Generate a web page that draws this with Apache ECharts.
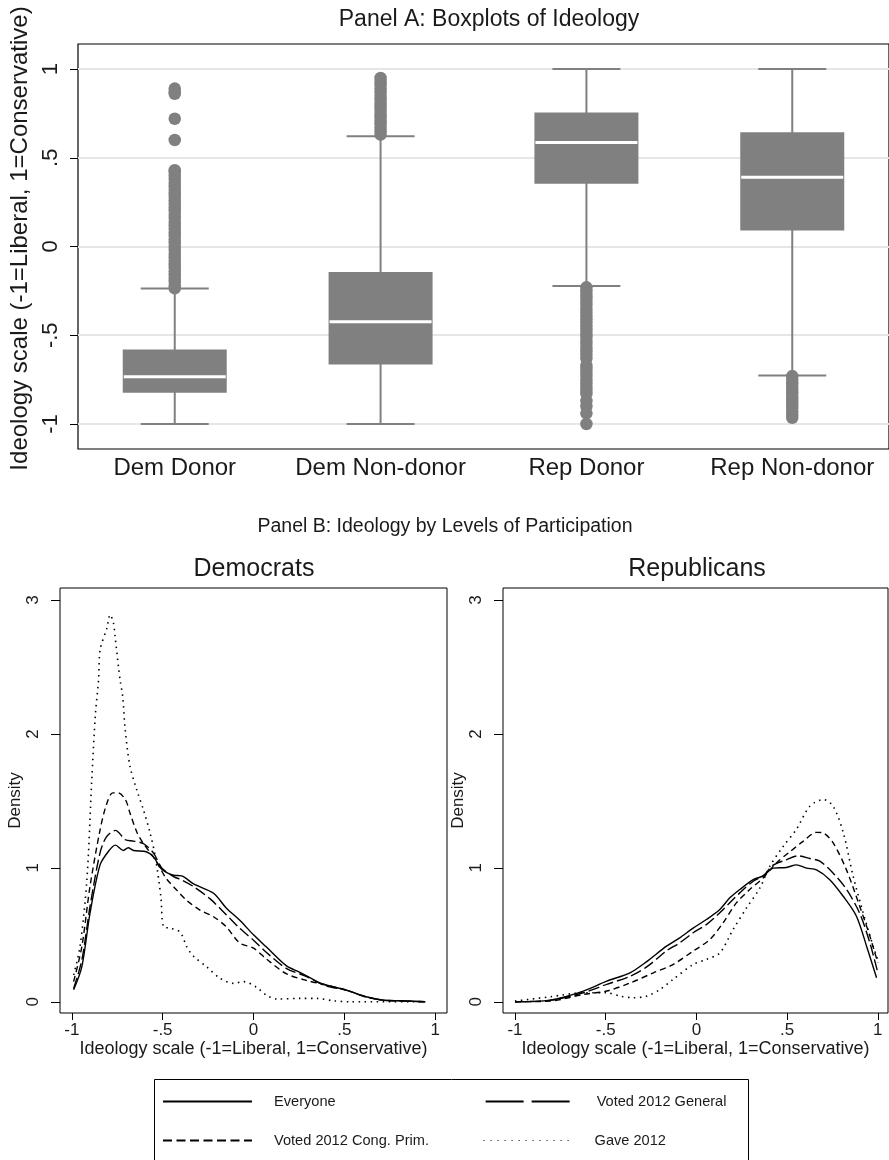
<!DOCTYPE html>
<html>
<head>
<meta charset="utf-8">
<script src="https://cdn.jsdelivr.net/npm/echarts@6/dist/echarts.min.js"></script>
<style>
html,body{margin:0;padding:0;background:#fff;}
#chart{width:889px;height:1160px;}
</style>
</head>
<body>
<div id="chart"></div>
<script>
// ---------- Panel A data ----------
var categories = ['Dem Donor', 'Dem Non-donor', 'Rep Donor', 'Rep Non-donor'];
var boxLow    = [-1.0,  -1.0,   -0.222, -0.727];
var boxQ1     = [-0.824,-0.665,  0.353,  0.090];
var boxMedian = [-0.734,-0.424,  0.586,  0.390];
var boxQ3     = [-0.580,-0.143,  0.755,  0.644];
var boxHigh   = [-0.237, 0.621,  1.0,    1.0];
var outDemDonor = [0.89,0.87,0.86,0.72,0.60,0.43,0.42,0.40,0.38,0.36,0.34,0.32,0.30,0.28,0.26,0.24,0.22,0.20,0.18,0.16,0.14,0.12,0.10,0.08,0.06,0.04,0.02,0.00,-0.02,-0.04,-0.06,-0.08,-0.10,-0.12,-0.14,-0.16,-0.18,-0.20,-0.22,-0.235];
var outDemNonDonor = [0.95,0.93,0.91,0.89,0.87,0.85,0.83,0.81,0.79,0.77,0.75,0.73,0.71,0.69,0.67,0.65,0.63];
var outRepDonor = [-0.23,-0.25,-0.27,-0.29,-0.31,-0.33,-0.35,-0.37,-0.39,-0.41,-0.43,-0.45,-0.47,-0.49,-0.51,-0.53,-0.55,-0.57,-0.59,-0.61,-0.63,-0.67,-0.69,-0.71,-0.73,-0.75,-0.77,-0.79,-0.81,-0.83,-0.87,-0.90,-0.94,-1.0];
var outRepNonDonor = [-0.73,-0.75,-0.77,-0.79,-0.81,-0.83,-0.85,-0.87,-0.89,-0.91,-0.93,-0.95,-0.965];
var yTicksA = [-1, -0.5, 0, 0.5, 1];

// ---------- Panel B data ----------
var seriesNames = ['Everyone', 'Voted 2012 General', 'Voted 2012 Cong. Prim.', 'Gave 2012'];
var xTicksB = [-1, -0.5, 0, 0.5, 1];
var yTicksB = [0, 1, 2, 3];
var demEveryone = [[-0.99,0.09],[-0.945,0.26],[-0.90,0.66],[-0.845,1.02],[-0.80,1.12],[-0.76,1.17],[-0.716,1.13],[-0.69,1.15],[-0.66,1.13],[-0.59,1.12],[-0.55,1.08],[-0.505,0.99],[-0.44,0.945],[-0.395,0.94],[-0.33,0.88],[-0.22,0.81],[-0.15,0.70],[-0.077,0.61],[0.0,0.50],[0.07,0.41],[0.18,0.27],[0.255,0.22],[0.35,0.15],[0.40,0.125],[0.51,0.087],[0.62,0.037],[0.715,0.012],[0.81,0.007],[0.945,0.0]];
var demGeneral = [[-0.99,0.10],[-0.945,0.31],[-0.90,0.71],[-0.845,1.11],[-0.81,1.23],[-0.76,1.28],[-0.705,1.21],[-0.66,1.20],[-0.605,1.18],[-0.55,1.11],[-0.505,1.0],[-0.44,0.935],[-0.395,0.91],[-0.33,0.86],[-0.24,0.77],[-0.15,0.65],[-0.077,0.55],[0.0,0.46],[0.07,0.37],[0.18,0.25],[0.29,0.19],[0.40,0.117],[0.51,0.087],[0.62,0.035],[0.715,0.012],[0.81,0.007],[0.945,0.0]];
var demPrimary = [[-0.99,0.15],[-0.945,0.41],[-0.90,0.86],[-0.845,1.28],[-0.81,1.47],[-0.775,1.56],[-0.745,1.56],[-0.705,1.51],[-0.68,1.41],[-0.64,1.26],[-0.605,1.18],[-0.55,1.08],[-0.515,1.0],[-0.48,0.92],[-0.42,0.83],[-0.37,0.76],[-0.295,0.685],[-0.22,0.635],[-0.15,0.56],[-0.077,0.44],[0.0,0.40],[0.07,0.32],[0.18,0.21],[0.29,0.16],[0.40,0.125],[0.51,0.087],[0.62,0.037],[0.715,0.012],[0.81,0.007],[0.945,0.0]];
var demGave = [[-0.99,0.2],[-0.955,0.41],[-0.917,0.91],[-0.89,1.66],[-0.87,2.15],[-0.853,2.40],[-0.844,2.63],[-0.807,2.79],[-0.789,2.89],[-0.771,2.83],[-0.762,2.73],[-0.743,2.50],[-0.734,2.40],[-0.72,2.28],[-0.706,2.03],[-0.68,1.76],[-0.642,1.58],[-0.605,1.43],[-0.569,1.26],[-0.54,1.08],[-0.51,0.785],[-0.495,0.56],[-0.46,0.55],[-0.404,0.52],[-0.367,0.41],[-0.33,0.34],[-0.257,0.26],[-0.183,0.174],[-0.11,0.137],[-0.055,0.15],[0.015,0.11],[0.07,0.05],[0.128,0.02],[0.257,0.025],[0.35,0.025],[0.44,0.007],[0.53,0.0],[0.936,0.0]];
var repEveryone = [[-1.0,0.0],[-0.807,0.012],[-0.623,0.08],[-0.494,0.154],[-0.366,0.216],[-0.274,0.30],[-0.165,0.415],[-0.092,0.477],[-0.018,0.55],[0.055,0.614],[0.129,0.689],[0.184,0.776],[0.239,0.838],[0.313,0.912],[0.368,0.94],[0.423,0.998],[0.496,1.003],[0.551,1.022],[0.607,0.998],[0.662,0.985],[0.735,0.912],[0.809,0.788],[0.882,0.639],[0.938,0.415],[0.993,0.179]];
var repGeneral = [[-1.0,0.0],[-0.807,0.01],[-0.623,0.067],[-0.494,0.13],[-0.366,0.19],[-0.274,0.26],[-0.165,0.38],[-0.092,0.44],[-0.018,0.515],[0.055,0.576],[0.129,0.664],[0.184,0.74],[0.239,0.813],[0.313,0.90],[0.368,0.94],[0.423,1.02],[0.496,1.06],[0.56,1.09],[0.625,1.07],[0.68,1.05],[0.754,0.96],[0.827,0.84],[0.90,0.66],[0.956,0.44],[1.0,0.216]];
var repPrimary = [[-1.0,0.0],[-0.807,0.005],[-0.623,0.055],[-0.494,0.08],[-0.366,0.14],[-0.237,0.216],[-0.129,0.278],[-0.018,0.378],[0.074,0.465],[0.147,0.589],[0.22,0.738],[0.294,0.838],[0.368,0.925],[0.441,1.037],[0.515,1.12],[0.588,1.198],[0.662,1.265],[0.70,1.26],[0.754,1.186],[0.827,0.985],[0.90,0.713],[0.956,0.49],[1.0,0.29]];
var repGave = [[-1.0,0.005],[-0.807,0.037],[-0.623,0.067],[-0.494,0.067],[-0.42,0.042],[-0.35,0.03],[-0.274,0.042],[-0.20,0.092],[-0.129,0.167],[-0.018,0.278],[0.055,0.316],[0.129,0.365],[0.202,0.539],[0.276,0.70],[0.35,0.85],[0.404,1.01],[0.478,1.16],[0.55,1.285],[0.625,1.46],[0.70,1.51],[0.754,1.46],[0.81,1.26],[0.864,0.937],[0.92,0.66],[0.974,0.415],[1.0,0.316]];

// ---------- build ----------
var FONT = '"Liberation Sans", Arial, Helvetica, sans-serif';
var TXT = '#1a1a1a';
var GRAY = '#808080';

function fmtNum(v) {
  if (v === 0) return '0';
  return String(v).replace(/^(-?)0\./, '$1.');
}

var boxData = categories.map(function (c, i) {
  return [i, boxLow[i], boxQ1[i], boxMedian[i], boxQ3[i], boxHigh[i]];
});
var outlierData = [];
[outDemDonor, outDemNonDonor, outRepDonor, outRepNonDonor].forEach(function (arr, i) {
  arr.forEach(function (v) { outlierData.push([i, v]); });
});

var lineStyles = {
  'Everyone': { type: 'solid', width: 1.4, legend: 'solid' },
  'Voted 2012 General': { type: [11, 4], width: 1.4, legend: [38, 8] },
  'Voted 2012 Cong. Prim.': { type: [6, 4], width: 1.4, legend: [9, 4.5] },
  'Gave 2012': { type: [1.5, 4.5], width: 1.6, legend: [1, 6] }
};
var demData = [demEveryone, demGeneral, demPrimary, demGave];
var repData = [repEveryone, repGeneral, repPrimary, repGave];

function densitySeries(name, data, idx) {
  return {
    name: name, type: 'line', xAxisIndex: idx, yAxisIndex: idx,
    data: data, symbol: 'none', smooth: 0.3, silent: true,
    lineStyle: { color: '#000', width: lineStyles[name].width, type: lineStyles[name].type },
    itemStyle: { color: '#000' }
  };
}

var series = [
  {
    type: 'custom', xAxisIndex: 0, yAxisIndex: 0, z: 2,
    data: boxData,
    encode: { x: 0, y: [1, 2, 3, 4, 5] },
    renderItem: function (params, api) {
      var x = api.value(0);
      var lo = api.coord([x, api.value(1)]);
      var q1 = api.coord([x, api.value(2)]);
      var md = api.coord([x, api.value(3)]);
      var q3 = api.coord([x, api.value(4)]);
      var hi = api.coord([x, api.value(5)]);
      var cx = lo[0], bw = 104, cw = 68;
      var ws = { stroke: GRAY, lineWidth: 2 };
      return {
        type: 'group',
        children: [
          { type: 'line', shape: { x1: cx, y1: hi[1], x2: cx, y2: lo[1] }, style: ws },
          { type: 'line', shape: { x1: cx - cw / 2, y1: hi[1], x2: cx + cw / 2, y2: hi[1] }, style: ws },
          { type: 'line', shape: { x1: cx - cw / 2, y1: lo[1], x2: cx + cw / 2, y2: lo[1] }, style: ws },
          { type: 'rect', shape: { x: cx - bw / 2, y: q3[1], width: bw, height: q1[1] - q3[1] }, style: { fill: GRAY } },
          { type: 'line', shape: { x1: cx - bw / 2 + 1, y1: md[1], x2: cx + bw / 2 - 1, y2: md[1] }, style: { stroke: '#fff', lineWidth: 3 } }
        ]
      };
    }
  },
  {
    type: 'scatter', xAxisIndex: 0, yAxisIndex: 0, z: 3,
    data: outlierData, symbol: 'circle', symbolSize: 12.5,
    itemStyle: { color: GRAY, opacity: 1 }, silent: true
  }
];
seriesNames.forEach(function (n, i) { series.push(densitySeries(n, demData[i], 1)); });
seriesNames.forEach(function (n, i) { series.push(densitySeries(n, repData[i], 2)); });

function densityX(idx, min, max) {
  return {
    type: 'value', gridIndex: idx, min: min, max: max, position: 'bottom',
    name: 'Ideology scale (-1=Liberal, 1=Conservative)', nameLocation: 'middle', nameGap: 26,
    nameTextStyle: { fontFamily: FONT, fontSize: 18, color: TXT },
    axisLine: { show: false, onZero: false },
    axisTick: { show: true, inside: false, length: 7, customValues: xTicksB, lineStyle: { color: '#000', width: 1 } },
    axisLabel: { customValues: xTicksB, formatter: fmtNum, fontFamily: FONT, fontSize: 17, color: TXT, margin: 9 },
    splitLine: { show: false }
  };
}
function densityY(idx) {
  return {
    type: 'value', gridIndex: idx, min: -0.084, max: 3.09, position: 'left',
    name: 'Density', nameLocation: 'middle', nameGap: 35,
    nameTextStyle: { fontFamily: FONT, fontSize: 17, color: TXT },
    axisLine: { show: false, onZero: false },
    axisTick: { show: true, inside: false, length: 9, customValues: yTicksB, lineStyle: { color: '#000', width: 1 } },
    axisLabel: { customValues: yTicksB, formatter: fmtNum, rotate: 90, fontFamily: FONT, fontSize: 17, color: TXT, margin: 18 },
    splitLine: { show: false }
  };
}

function legendItem(n) {
  return {
    name: n,
    itemStyle: { opacity: 0, color: 'transparent', borderWidth: 0 },
    lineStyle: { color: '#000', width: n === 'Gave 2012' ? 1.2 : 2, type: lineStyles[n].legend, opacity: 1 }
  };
}

var option = {
  animation: false,
  backgroundColor: '#fff',
  textStyle: { fontFamily: FONT },
  title: [
    { text: 'Panel A: Boxplots of Ideology', left: 489, top: 8, textAlign: 'center', padding: 0, textStyle: { fontFamily: FONT, fontSize: 23, fontWeight: 'normal', color: TXT } },
    { text: 'Panel B: Ideology by Levels of Participation', left: 445, top: 517, textAlign: 'center', padding: 0, textStyle: { fontFamily: FONT, fontSize: 19.5, fontWeight: 'normal', color: TXT } },
    { text: 'Democrats', left: 254, top: 557, textAlign: 'center', padding: 0, textStyle: { fontFamily: FONT, fontSize: 25, fontWeight: 'normal', color: TXT } },
    { text: 'Republicans', left: 697, top: 557, textAlign: 'center', padding: 0, textStyle: { fontFamily: FONT, fontSize: 25, fontWeight: 'normal', color: TXT } }
  ],
  grid: [
    { left: 77, top: 44, width: 812, height: 405, show: true, borderColor: '#000', borderWidth: 1.2, backgroundColor: '#fff' },
    { left: 60, top: 588, width: 387, height: 425, show: true, borderColor: '#000', borderWidth: 1, backgroundColor: '#fff' },
    { left: 503, top: 588, width: 385, height: 425, show: true, borderColor: '#000', borderWidth: 1, backgroundColor: '#fff' }
  ],
  xAxis: [
    {
      type: 'value', gridIndex: 0, min: -0.47, max: 3.47, position: 'bottom',
      axisLine: { show: false, onZero: false }, axisTick: { show: false }, splitLine: { show: false },
      axisLabel: { customValues: [0, 1, 2, 3], formatter: function (v) { return categories[Math.round(v)]; }, fontFamily: FONT, fontSize: 24, color: TXT, margin: 7 }
    },
    densityX(1, -1.065, 1.065),
    densityX(2, -1.066, 1.056)
  ],
  yAxis: [
    {
      type: 'value', gridIndex: 0, min: -1.141, max: 1.141, position: 'left',
      name: 'Ideology scale (-1=Liberal, 1=Conservative)', nameLocation: 'middle', nameGap: 46,
      nameTextStyle: { fontFamily: FONT, fontSize: 24, color: TXT, padding: [0, 0, 0, 16] },
      axisLine: { show: false, onZero: false },
      axisTick: { show: true, inside: false, length: 8, customValues: yTicksA, lineStyle: { color: '#000', width: 1 } },
      axisLabel: { customValues: yTicksA, formatter: fmtNum, rotate: 90, fontFamily: FONT, fontSize: 22, color: TXT, margin: 16 },
      splitLine: { show: true, lineStyle: { color: '#e6e6e6', width: 2 } }
    },
    densityY(1),
    densityY(2)
  ],
  legend: [
    {
      data: [legendItem('Everyone'), legendItem('Voted 2012 General')],
      left: 162, top: 1094, padding: 0, orient: 'horizontal',
      itemWidth: 89, itemHeight: 14, itemGap: 149, selectedMode: false,
      textStyle: { fontFamily: FONT, fontSize: 14.6, color: TXT, padding: [0, 0, 0, 17] }
    },
    {
      data: [legendItem('Voted 2012 Cong. Prim.'), legendItem('Gave 2012')],
      left: 162, top: 1133, padding: 0, orient: 'horizontal',
      itemWidth: 89, itemHeight: 14, itemGap: 54, selectedMode: false,
      textStyle: { fontFamily: FONT, fontSize: 14.6, color: TXT, padding: [0, 0, 0, 17] }
    }
  ],
  graphic: [
    { type: 'rect', left: 152, top: 1077, shape: { width: 594, height: 120 }, style: { fill: 'none', stroke: '#000', lineWidth: 1 }, z: -1, silent: true }
  ],
  series: series
};

var chart = echarts.init(document.getElementById('chart'), null, { renderer: 'canvas' });
chart.setOption(option);
</script>
</body>
</html>
